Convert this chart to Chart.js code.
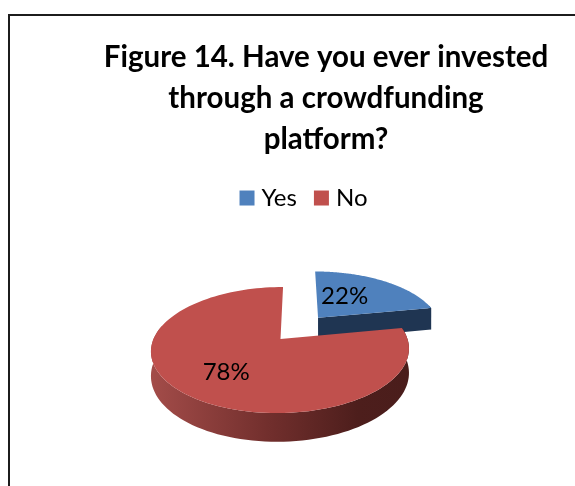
<!DOCTYPE html>
<html>
<head>
<meta charset="utf-8">
<title>Figure 14</title>
<script src="https://cdn.jsdelivr.net/npm/chart.js@4"></script>
<style>
  html, body { margin: 0; padding: 0; background: #fff; width: 575px; height: 486px; overflow: hidden; }
  #frame { position: absolute; left: 8px; top: 14px; width: 640px; height: 500px; border: 2px solid #1c1c1c; box-sizing: border-box; background: #fff; }
  #chart { position: absolute; left: 0; top: 0; }
</style>
</head>
<body>
<div id="frame"><canvas id="chart" width="632" height="480"></canvas></div>
<script>
const categories = ['Yes', 'No'];
const shares = [22, 78];
const sliceColors = ['#4F81BD', '#C0504D'];
const titleLines = ['Figure 14. Have you ever invested', 'through a crowdfunding', 'platform?'];

const FONT = 'Lato, "Open Sans", sans-serif';

// Perspective of the tilted pie: plane coordinates are in units of the radius,
// with +y running toward the viewer.
const view = { cx: 270.5, cy: 323, width: 127, skew: -3, height: 61.1, persp: 0.175 };
const rimDepth = 23.7;
const bluePull = 0.48;
const nominalRadius = 100;

function project(x, y, z) {
  const w = 1 - view.persp * y;
  return [view.cx + (view.width * x + view.skew * y) / w,
          view.cy + (view.height * y + (z || 0)) / w];
}

function sectorGeometry(el) {
  const mid = (el.startAngle + el.endAngle) / 2;
  const pull = el.options.offset / 4 / el.outerRadius;
  const ox = Math.cos(mid) * pull, oy = Math.sin(mid) * pull;
  const rim = [];
  const front = [];
  const steps = 120;
  for (let i = 0; i <= steps; i++) {
    const t = el.startAngle + (el.endAngle - el.startAngle) * i / steps;
    const p = [ox + Math.cos(t), oy + Math.sin(t)];
    rim.push(p);
    // Only the part of the rim facing the viewer gets a wall.
    if (Math.sin(t) > -0.25) front.push(p);
  }
  return { mid, ox, oy, rim, front, apex: [ox, oy] };
}

function tracePoints(ctx, pts, z, reverse) {
  const list = reverse ? pts.slice().reverse() : pts;
  list.forEach(p => {
    const s = project(p[0], p[1], z);
    ctx.lineTo(s[0], s[1]);
  });
}

function fillWall(ctx, pts, fill) {
  ctx.beginPath();
  tracePoints(ctx, pts, 0, false);
  tracePoints(ctx, pts, rimDepth, true);
  ctx.closePath();
  ctx.fillStyle = fill;
  ctx.fill();
}

function fillTop(ctx, geo, fill) {
  ctx.beginPath();
  tracePoints(ctx, [geo.apex], 0, false);
  tracePoints(ctx, geo.rim, 0, false);
  ctx.closePath();
  ctx.fillStyle = fill;
  ctx.fill();
}

const tiltedPie = {
  id: 'tiltedPie',
  afterLayout(chart) {
    // The legend sits left of the title's centre line.
    chart.legend.left -= 20;
    chart.legend.right -= 20;
  },
  beforeDatasetsDraw(chart) {
    const ctx = chart.ctx;
    const arcs = chart.getDatasetMeta(0).data;
    const [blue, red] = arcs;

    const blueGeo = sectorGeometry(blue);
    ctx.save();
    fillWall(ctx, blueGeo.front, '#1F3552');
    fillWall(ctx, [blueGeo.apex, blueGeo.rim[blueGeo.rim.length - 1]], '#1F3552');
    fillTop(ctx, blueGeo, blue.options.backgroundColor);

    const redGeo = sectorGeometry(red);
    const shade = ctx.createLinearGradient(view.cx - 129, 0, view.cx + 129, 0);
    shade.addColorStop(0, '#A34C49');
    shade.addColorStop(0.45, '#722F2D');
    shade.addColorStop(0.8, '#4D1E1C');
    shade.addColorStop(1, '#4A1D1B');
    fillWall(ctx, redGeo.front, shade);
    fillTop(ctx, redGeo, red.options.backgroundColor);

    // Percentage labels, placed along each slice's middle direction.
    const labelPlacement = [
      { radial: 0.5, nudgeX: -8, nudgeY: -2 },
      { radial: 0.63, nudgeX: 3, nudgeY: 1 }
    ];
    ctx.fillStyle = '#000';
    ctx.font = '24px ' + FONT;
    ctx.textAlign = 'center';
    ctx.textBaseline = 'middle';
    [blueGeo, redGeo].forEach((geo, i) => {
      const r = labelPlacement[i].radial;
      const s = project(geo.ox + Math.cos(geo.mid) * r, geo.oy + Math.sin(geo.mid) * r);
      ctx.fillText(shares[i] + '%', s[0] + labelPlacement[i].nudgeX, s[1] + labelPlacement[i].nudgeY);
    });
    ctx.restore();
    return false;
  }
};

new Chart(document.getElementById('chart'), {
  type: 'pie',
  data: {
    labels: categories,
    datasets: [{
      data: shares,
      backgroundColor: sliceColors,
      borderWidth: 0,
      offset: [bluePull * nominalRadius * 4, 0],
      hoverOffset: 0
    }]
  },
  options: {
    responsive: false,
    animation: false,
    radius: nominalRadius,
    layout: { padding: 0 },
    plugins: {
      tooltip: { enabled: false },
      title: {
        display: true,
        text: titleLines,
        color: '#000',
        font: { family: FONT, size: 29.5, weight: 'bold', lineHeight: 1.39 },
        padding: { top: 21, bottom: 4 }
      },
      legend: {
        display: true,
        position: 'top',
        labels: {
          color: '#000',
          font: { family: FONT, size: 24 },
          // A small box with a thick outline keeps the swatch 15px wide
          // while tightening the gap before its text.
          boxWidth: 5,
          boxHeight: 5,
          padding: 22,
          generateLabels(chart) {
            return Chart.overrides.pie.plugins.legend.labels.generateLabels(chart).map(item => ({
              ...item,
              strokeStyle: item.fillStyle,
              lineWidth: 10
            }));
          }
        }
      }
    }
  },
  plugins: [tiltedPie]
});
</script>
</body>
</html>
